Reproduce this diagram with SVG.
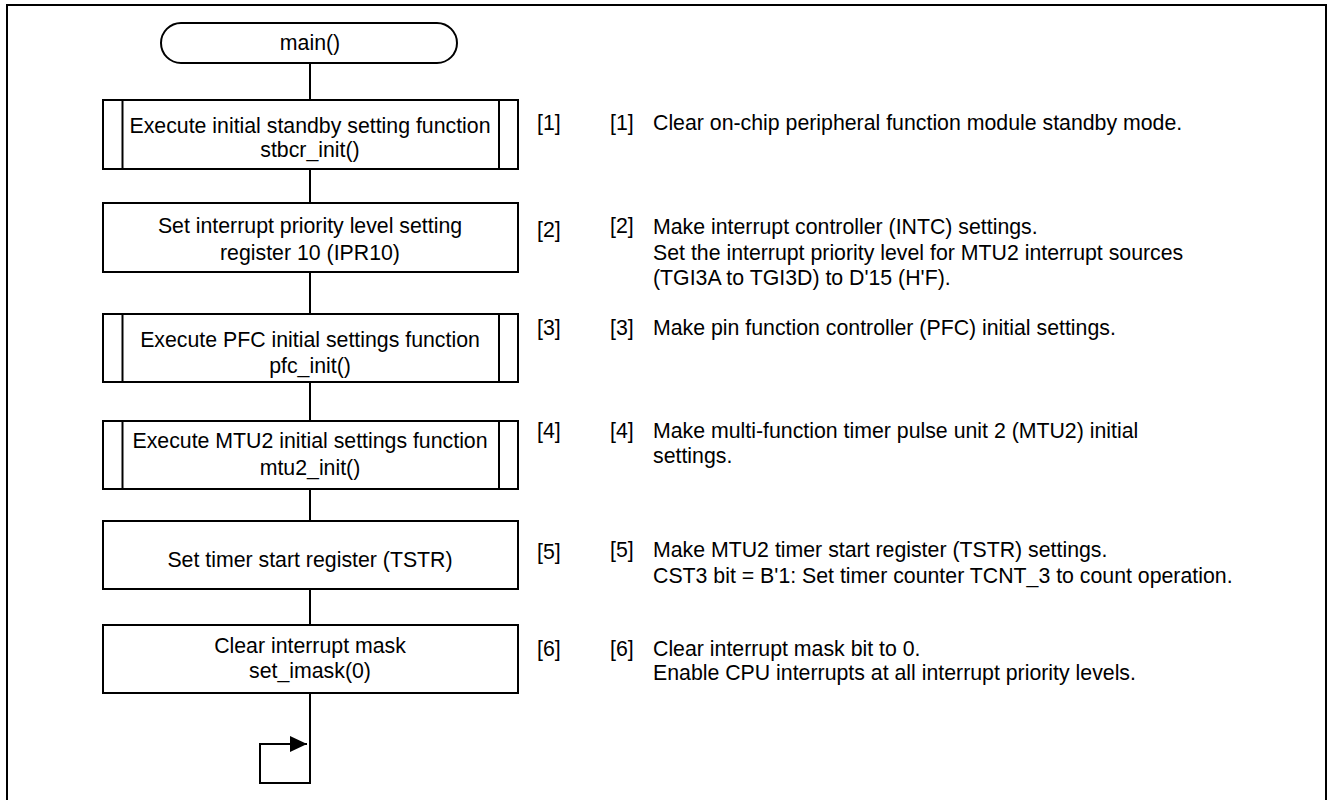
<svg xmlns="http://www.w3.org/2000/svg" width="1328" height="800" viewBox="0 0 1328 800">
<style>
  text { font-family: "Liberation Sans", Arial, sans-serif; font-size: 21.3px; fill: #000; }
  .c { text-anchor: middle; }
  .box { fill: #fff; stroke: #000; stroke-width: 2; }
  .ln { fill: none; stroke: #000; stroke-width: 2; }
</style>
<defs>
  <marker id="arr" markerWidth="17" markerHeight="16" refX="17" refY="8" orient="auto" markerUnits="userSpaceOnUse">
    <path d="M0,0 L17,8 L0,16 Z" fill="#000"/>
  </marker>
</defs>
<rect width="1328" height="800" fill="#fff"/>
<path class="ln" d="M7,801 V5 H1326 V801"/>

<g id="connectors">
  <line class="ln" x1="310" y1="63" x2="310" y2="100"/>
  <line class="ln" x1="310" y1="169" x2="310" y2="203"/>
  <line class="ln" x1="310" y1="272" x2="310" y2="314"/>
  <line class="ln" x1="310" y1="382" x2="310" y2="421"/>
  <line class="ln" x1="310" y1="489" x2="310" y2="521"/>
  <line class="ln" x1="310" y1="589" x2="310" y2="625"/>
  <path class="ln" d="M310,693 V783 H260 V744 H307" marker-end="url(#arr)"/>
</g>

<g id="start">
  <rect class="box" x="161" y="23" width="296" height="40" rx="20" ry="20"/>
  <text class="c" x="310" y="50">main()</text>
</g>

<g id="step1">
  <rect class="box" x="103" y="100" width="415" height="69"/>
  <line class="ln" x1="122.5" y1="100" x2="122.5" y2="169"/>
  <line class="ln" x1="499" y1="100" x2="499" y2="169"/>
  <text class="c" x="310" y="133">Execute initial standby setting function</text>
  <text class="c" x="310" y="157">stbcr_init()</text>
  <text x="537" y="130">[1]</text>
</g>

<g id="step2">
  <rect class="box" x="103" y="203" width="415" height="69"/>
  <text class="c" x="310" y="233">Set interrupt priority level setting</text>
  <text class="c" x="310" y="260">register 10 (IPR10)</text>
  <text x="537" y="237">[2]</text>
</g>

<g id="step3">
  <rect class="box" x="103" y="314" width="415" height="68"/>
  <line class="ln" x1="122.5" y1="314" x2="122.5" y2="382"/>
  <line class="ln" x1="499" y1="314" x2="499" y2="382"/>
  <text class="c" x="310" y="347">Execute PFC initial settings function</text>
  <text class="c" x="310" y="373">pfc_init()</text>
  <text x="537" y="335">[3]</text>
</g>

<g id="step4">
  <rect class="box" x="103" y="421" width="415" height="68"/>
  <line class="ln" x1="122.5" y1="421" x2="122.5" y2="489"/>
  <line class="ln" x1="499" y1="421" x2="499" y2="489"/>
  <text class="c" x="310" y="448">Execute MTU2 initial settings function</text>
  <text class="c" x="310" y="475">mtu2_init()</text>
  <text x="537" y="438">[4]</text>
</g>

<g id="step5">
  <rect class="box" x="103" y="521" width="415" height="68"/>
  <text class="c" x="310" y="567">Set timer start register (TSTR)</text>
  <text x="537" y="559">[5]</text>
</g>

<g id="step6">
  <rect class="box" x="103" y="625" width="415" height="68"/>
  <text class="c" x="310" y="653">Clear interrupt mask</text>
  <text class="c" x="310" y="678">set_imask(0)</text>
  <text x="537" y="656">[6]</text>
</g>

<g id="notes">
  <text x="610" y="130">[1]</text>
  <text x="653" y="130">Clear on-chip peripheral function module standby mode.</text>
  <text x="610" y="233">[2]</text>
  <text x="653" y="234">Make interrupt controller (INTC) settings.</text>
  <text x="653" y="260">Set the interrupt priority level for MTU2 interrupt sources</text>
  <text x="653" y="285">(TGI3A to TGI3D) to D'15 (H'F).</text>
  <text x="610" y="335">[3]</text>
  <text x="653" y="335">Make pin function controller (PFC) initial settings.</text>
  <text x="610" y="438">[4]</text>
  <text x="653" y="438">Make multi-function timer pulse unit 2 (MTU2) initial</text>
  <text x="653" y="463">settings.</text>
  <text x="610" y="557">[5]</text>
  <text x="653" y="557">Make MTU2 timer start register (TSTR) settings.</text>
  <text x="653" y="583">CST3 bit = B'1: Set timer counter TCNT_3 to count operation.</text>
  <text x="610" y="656">[6]</text>
  <text x="653" y="656">Clear interrupt mask bit to 0.</text>
  <text x="653" y="680">Enable CPU interrupts at all interrupt priority levels.</text>
</g>
</svg>
